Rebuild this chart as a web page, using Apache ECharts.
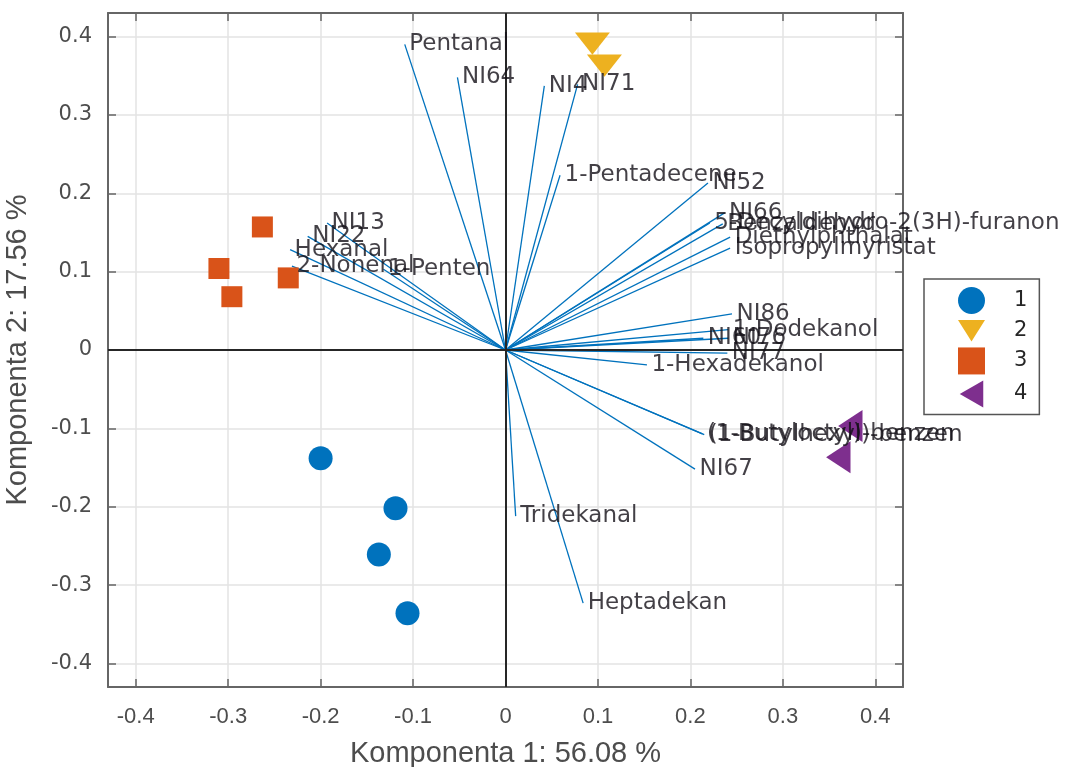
<!DOCTYPE html>
<html>
<head>
<meta charset="utf-8">
<script src="https://cdn.jsdelivr.net/npm/echarts@6/dist/echarts.min.js"></script>
<style>
html,body{margin:0;padding:0;background:#fff;}
#chart{width:1073px;height:767px;}
</style>
</head>
<body>
<div id="chart"></div>
<script>
// ---- data ----
const groupNames = ['1', '2', '3', '4'];
const group1 = [[-0.200, -0.138], [-0.119, -0.202], [-0.137, -0.261], [-0.106, -0.336]];
const group2 = [[0.094, 0.391], [0.107, 0.363]];
const group3 = [[-0.263, 0.157], [-0.310, 0.104], [-0.296, 0.068], [-0.235, 0.092]];
const group4 = [[0.373, -0.097], [0.360, -0.137]];

const variableNames = [
  'Pentanal', 'NI64', 'NI4', 'NI71', '1-Pentadecene', 'NI52', 'NI66',
  '5-Decyldihydro-2(3H)-furanon', 'Benzaldehyd', 'Diethylphthalat', 'Isopropylmyristat',
  'NI86', '1-Dodekanol', 'NI60', 'NI76', 'NI77', '1-Hexadekanol',
  '(1-Butyloctyl)-benzen', '(1-Butylhexyl)-benzen', 'NI67', 'Tridekanal', 'Heptadekan',
  'Hexanal', '2-Nonenal', 'NI22', 'NI13', '1-Penten'
];
const loadingX = [
  -0.109, -0.052, 0.042, 0.078, 0.059, 0.219, 0.237,
  0.221, 0.235, 0.243, 0.243,
  0.245, 0.241, 0.214, 0.241, 0.240, 0.153,
  0.213, 0.215, 0.205, 0.011, 0.084,
  -0.233, -0.231, -0.214, -0.193, -0.132
];
const loadingY = [
  0.390, 0.348, 0.337, 0.339, 0.223, 0.213, 0.175,
  0.162, 0.161, 0.144, 0.130,
  0.046, 0.026, 0.015, 0.015, -0.004, -0.019,
  -0.107, -0.108, -0.152, -0.212, -0.323,
  0.128, 0.107, 0.145, 0.162, 0.103
];

const xTicks = [-0.4, -0.3, -0.2, -0.1, 0, 0.1, 0.2, 0.3, 0.4];
const yTicks = [-0.4, -0.3, -0.2, -0.1, 0, 0.1, 0.2, 0.3, 0.4];
const axisMin = -0.43, axisMax = 0.43;
const xTitle = 'Komponenta 1: 56.08 %';
const yTitle = 'Komponenta 2: 17.56 %';

// ---- styles ----
const colors = ['#0072BD', '#EDB120', '#D95319', '#7E2F8E'];
const symbols = [
  'circle',
  'path://M0,0L34,0L17,27Z',
  'rect',
  'path://M27,0L27,31L0,15.5Z'
];
const symbolSizes = [24, [35, 28], 21, [28, 32]];
const groups = [group1, group2, group3, group4];

const chart = echarts.init(document.getElementById('chart'), null, {renderer: 'canvas'});

const frameColor = '#666666';
const gridLine = {show: true, lineStyle: {color: '#e3e3e3', width: 1.5}};
const fmt = v => (Math.abs(v) < 1e-9 ? '0' : String(Math.round(v * 10) / 10));

function mkAxis(isX, main, ticks) {
  return {
    type: 'value',
    min: axisMin, max: axisMax,
    position: isX ? (main ? 'bottom' : 'top') : (main ? 'left' : 'right'),
    axisLine: {show: true, onZero: false, lineStyle: {color: frameColor, width: 2}},
    axisTick: {show: true, inside: true, length: 8, customValues: ticks, lineStyle: {color: frameColor, width: 1.5}},
    axisLabel: main ? {
      show: true, customValues: ticks, formatter: fmt,
      color: '#4d4d4d',
      fontFamily: isX ? 'Liberation Sans' : 'DejaVu Sans',
      fontSize: isX ? 22 : 21,
      margin: isX ? 19 : 16
    } : {show: false},
    splitLine: main ? gridLine : {show: false},
    name: main ? (isX ? xTitle : yTitle) : '',
    nameLocation: 'middle',
    nameGap: isX ? 52 : 76,
    nameTextStyle: {color: '#4d4d4d', fontFamily: 'Liberation Sans', fontSize: 29}
  };
}

const series = [];

// zero reference lines (beneath everything else)
series.push({
  type: 'scatter',
  name: 'zero',
  silent: true,
  z: 1,
  data: [],
  markLine: {
    silent: true,
    symbol: 'none',
    label: {show: false},
    lineStyle: {color: '#262626', width: 2, type: 'solid'},
    data: [{xAxis: 0}, {yAxis: 0}]
  }
});

// loading vectors
series.push({
  type: 'lines',
  coordinateSystem: 'cartesian2d',
  silent: true,
  z: 2,
  lineStyle: {color: '#0072BD', width: 1.3, opacity: 1},
  data: variableNames.map((n, i) => ({coords: [[0, 0], [loadingX[i], loadingY[i]]]}))
});

// labels at vector tips
series.push({
  type: 'scatter',
  name: 'labels',
  silent: true,
  z: 6,
  symbolSize: 1,
  itemStyle: {color: 'rgba(0,0,0,0)'},
  label: {
    show: true, position: 'right', distance: 4, offset: [0, -3],
    formatter: '{b}', color: '#141018', fontFamily: 'DejaVu Sans', fontSize: 23
  },
  labelLayout: {hideOverlap: false},
  data: variableNames.map((n, i) => ({name: n, value: [loadingX[i], loadingY[i]]}))
});

groups.forEach((g, k) => {
  series.push({
    type: 'scatter',
    name: groupNames[k],
    z: 4,
    symbol: symbols[k],
    symbolSize: symbolSizes[k],
    symbolKeepAspect: true,
    itemStyle: {color: colors[k], opacity: 1},
    data: g
  });
});

chart.setOption({
  animation: false,
  backgroundColor: '#ffffff',
  grid: {left: 108, right: 170, top: 13, bottom: 80, containLabel: false, outerBoundsMode: 'none'},
  xAxis: [mkAxis(true, true, xTicks), mkAxis(true, false, xTicks)],
  yAxis: [mkAxis(false, true, yTicks), mkAxis(false, false, yTicks)],
  legend: {
    data: groupNames,
    orient: 'vertical',
    left: 924, top: 279,
    itemWidth: 27, itemHeight: 27, itemGap: 6,
    padding: [8, 12, 7, 34],
    borderColor: '#555555', borderWidth: 1.5,
    backgroundColor: '#ffffff',
    textStyle: {color: '#262626', fontFamily: 'DejaVu Sans', fontSize: 21, padding: [0, 0, 0, 24]}
  },
  series: series
});
</script>
</body>
</html>
